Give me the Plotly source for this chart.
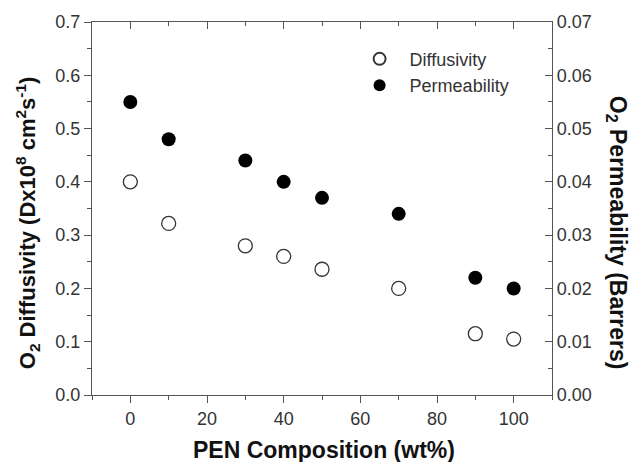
import plotly.graph_objects as go

pen_wt = [0, 10, 30, 40, 50, 70, 90, 100]
diffusivity = [0.40, 0.322, 0.28, 0.26, 0.236, 0.20, 0.115, 0.105]
permeability = [0.055, 0.048, 0.044, 0.040, 0.037, 0.034, 0.022, 0.020]

FONT = "Liberation Sans, Arial, sans-serif"
AX = "#555555"
TXT = "#333333"

fig = go.Figure()
fig.add_trace(go.Scatter(
    x=pen_wt, y=diffusivity, mode="markers", name="Diffusivity",
    marker=dict(symbol="circle-open", size=14, color="#333333", line=dict(width=1.3)),
    xaxis="x", yaxis="y"))
fig.add_trace(go.Scatter(
    x=pen_wt, y=permeability, mode="markers", name="Permeability",
    marker=dict(symbol="circle", size=14, color="#000000"),
    xaxis="x", yaxis="y2"))

common = dict(showline=True, linecolor=AX, linewidth=1.2, showgrid=False, zeroline=False,
              tickcolor=AX, tickwidth=1.2, ticklen=7, automargin=False,
              tickfont=dict(family=FONT, size=18, color=TXT))

fig.update_layout(
    width=633, height=462,
    margin=dict(l=92, r=81, t=22, b=67),
    paper_bgcolor="white", plot_bgcolor="white",
    showlegend=True,
    legend=dict(x=0.56, y=0.95, xanchor="left", yanchor="top", bgcolor="rgba(0,0,0,0)",
                font=dict(family=FONT, size=18, color=TXT), tracegroupgap=0, itemwidth=50,
                itemsizing="constant"),
    xaxis=dict(range=[-10, 110], dtick=20, tick0=0, ticks="outside",
               minor=dict(dtick=10, ticks="outside", ticklen=4, tickcolor=AX), **common),
    xaxis2=dict(range=[-10, 110], dtick=20, tick0=0, ticks="inside", overlaying="x", side="top",
                showticklabels=False,
                minor=dict(dtick=10, ticks="inside", ticklen=4, tickcolor=AX), **common),
    yaxis=dict(range=[0, 0.7], dtick=0.1, tickformat=".1f", ticks="outside",
               minor=dict(dtick=0.05, ticks="outside", ticklen=4, tickcolor=AX), **common),
    yaxis2=dict(range=[0, 0.07], dtick=0.01, tickformat=".2f", ticks="inside", overlaying="y",
                side="right",
                minor=dict(dtick=0.005, ticks="inside", ticklen=4, tickcolor=AX), **common),
    annotations=[
        dict(text="PEN Composition (wt%)", xref="paper", yref="paper", x=0.505, y=-0.148,
             xanchor="center", yanchor="middle", showarrow=False,
             font=dict(family=FONT, size=23, color="#111111", weight="bold")),
        dict(text="O<sub>2</sub> Diffusivity (Dx10<sup>8</sup> cm<sup>2</sup>s<sup>-1</sup>)",
             xref="paper", yref="paper", x=-0.141, y=0.461, textangle=-90,
             xanchor="center", yanchor="middle", showarrow=False,
             font=dict(family=FONT, size=22, color="#111111", weight="bold")),
        dict(text="O<sub>2</sub> Permeability (Barrers)",
             xref="paper", yref="paper", x=1.142, y=0.434, textangle=90,
             xanchor="center", yanchor="middle", showarrow=False,
             font=dict(family=FONT, size=23, color="#111111", weight="bold")),
    ],
)
fig.add_trace(go.Scatter(x=[None], y=[None], xaxis="x2", yaxis="y", showlegend=False, hoverinfo="skip"))

fig.write_html("out.html", config={"displayModeBar": False},
               post_script="document.body.style.margin='0';")
